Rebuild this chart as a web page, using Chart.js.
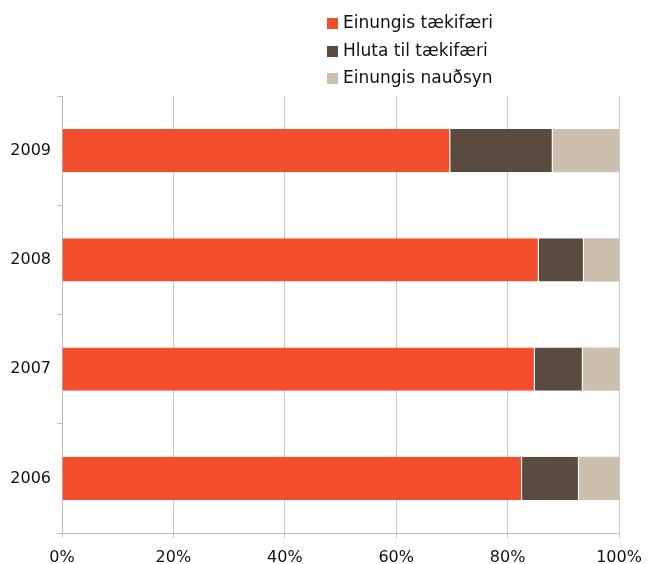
<!DOCTYPE html>
<html>
<head>
<meta charset="utf-8">
<script src="https://cdn.jsdelivr.net/npm/chart.js@4/dist/chart.umd.min.js"></script>
<style>
  html, body { margin: 0; padding: 0; background: #fff; }
  #wrap { position: relative; width: 653px; height: 564px; }
  #legend { position: absolute; left: 327px; top: 9px; font-family: "DejaVu Sans", sans-serif; font-size: 17px; color: #111; }
  .item { height: 27.5px; line-height: 27.5px; white-space: nowrap; }
  .sw { display: inline-block; width: 11px; height: 11px; margin-right: 5px; vertical-align: -1px; }
</style>
</head>
<body>
<div id="wrap">
  <canvas id="c" width="653" height="564"></canvas>
  <div id="legend"></div>
</div>
<script>
const categories = ['2009', '2008', '2007', '2006'];
const seriesNames = ['Einungis tækifæri', 'Hluta til tækifæri', 'Einungis nauðsyn'];
const einungisTaekifaeri = [69.7, 85.6, 84.9, 82.6];
const hlutaTilTaekifaeri = [18.4, 8.1, 8.6, 10.2];
const einungisNaudsyn = [11.9, 6.3, 6.5, 7.2];
const xTickValues = [0, 20, 40, 60, 80, 100];
const colors = ['#F24E2B', '#5A4B41', '#CBBFAE'];

const seriesValues = [einungisTaekifaeri, hlutaTilTaekifaeri, einungisNaudsyn];
const datasets = seriesNames.map((name, i) => ({
  label: name,
  data: seriesValues[i],
  backgroundColor: colors[i],
  borderColor: '#ffffff',
  borderWidth: { right: i < seriesNames.length - 1 ? 1 : 0, left: 0, top: 0, bottom: 0 },
  borderSkipped: false,
  categoryPercentage: 1,
  barPercentage: 0.395
}));

const legend = document.getElementById('legend');
seriesNames.forEach((name, i) => {
  const d = document.createElement('div');
  d.className = 'item';
  d.innerHTML = '<span class="sw" style="background:' + colors[i] + '"></span>' + name;
  legend.appendChild(d);
});

const font = { family: '"DejaVu Sans", sans-serif', size: 16 };
new Chart(document.getElementById('c'), {
  type: 'bar',
  data: { labels: categories, datasets },
  options: {
    responsive: false,
    animation: false,
    indexAxis: 'y',
    layout: { padding: { top: 96, right: 34, left: 0, bottom: 0 } },
    plugins: { legend: { display: false }, tooltip: { enabled: false } },
    scales: {
      x: {
        stacked: true,
        min: 0, max: 100,
        afterBuildTicks: (s) => { s.ticks = xTickValues.map(v => ({ value: v })); },
        afterFit: (s) => { s.height = 31; },
        ticks: { color: '#111', font, padding: 10, callback: (v) => v + '%' },
        grid: { color: '#c8c8c8', lineWidth: 1, tickLength: 5 },
        border: { color: '#bdbdbd', width: 1 }
      },
      y: {
        stacked: true,
        afterFit: (s) => { s.width = 62; },
        ticks: { color: '#111', font, padding: 6 },
        grid: { drawOnChartArea: false, color: '#bdbdbd', tickLength: 5, offset: true },
        border: { color: '#bdbdbd', width: 1 }
      }
    }
  }
});
</script>
</body>
</html>
